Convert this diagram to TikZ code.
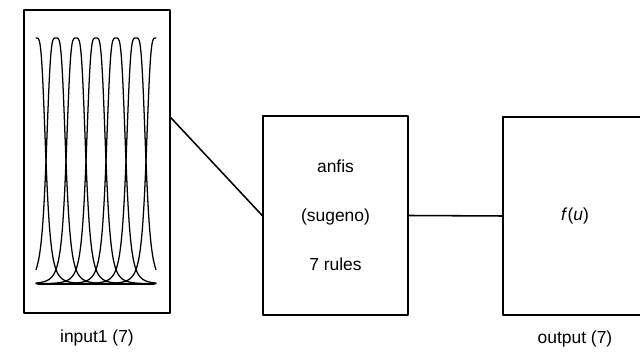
\documentclass[tikz,border=0pt]{standalone}
\usepackage{fontspec}
\setmainfont{Liberation Sans}
\usetikzlibrary{positioning,calc}

\begin{document}
\begin{tikzpicture}[x=0.025cm,y=-0.025cm,line cap=round,line join=round,
  box/.style={draw,line width=1.1pt,inner sep=0pt},
  lbl/.style={inner sep=0pt,font=\fontsize{12.4}{14}\selectfont},
  mf/.style={line width=0.9pt}]
\clip (0,0) rectangle (640,352);

% --- the three blocks ---
\node[box,minimum width=3.65cm,minimum height=7.575cm] (input) at (97,161.5) {};
\node[box,minimum width=3.625cm,minimum height=4.975cm,align=center,
  font=\fontsize{12.4}{35}\selectfont] (fis) at (335.5,215.5)
  {anfis\\(sugeno)\\7 rules};
\node[box,lbl,minimum width=3.6cm,minimum height=4.95cm] (output) at (575,216)
  {\textit{f}(\textit{u})};

% labels under the blocks
\node[lbl,below=0.4cm of input]   (inlbl)  {input1 (7)};
\node[lbl,below=0.38cm of output] (outlbl) {output (7)};

% --- membership functions of input1 (bell shaped) ---
\def\xa{36}
\def\xb{156}
\def\ytop{38}
\def\ybot{284}
\def\wd{10}

\draw[mf] (\xa+2,\ybot) -- (\xb-2,\ybot);
\foreach \k in {0,...,6}{
  \pgfmathsetmacro{\c}{\xa+20*\k}
  \pgfmathsetmacro{\lo}{max(\xa,\c-60)}
  \pgfmathsetmacro{\hi}{min(\xb,\c+60)}
  \draw[mf] plot[domain=\lo:\hi,samples=91,smooth]
    (\x,{\ybot-(\ybot-\ytop)/(1+((\x-\c)*(\x-\c)/(\wd*\wd))^2)});
}

% --- connectors ---
\coordinate (tap) at ($(input.north east)!0.356!(input.south east)$);
\draw[line width=1.1pt] (tap) -- (fis.west);
\draw[line width=1.1pt] (fis.east) -- (output.west);
\end{tikzpicture}
\end{document}
